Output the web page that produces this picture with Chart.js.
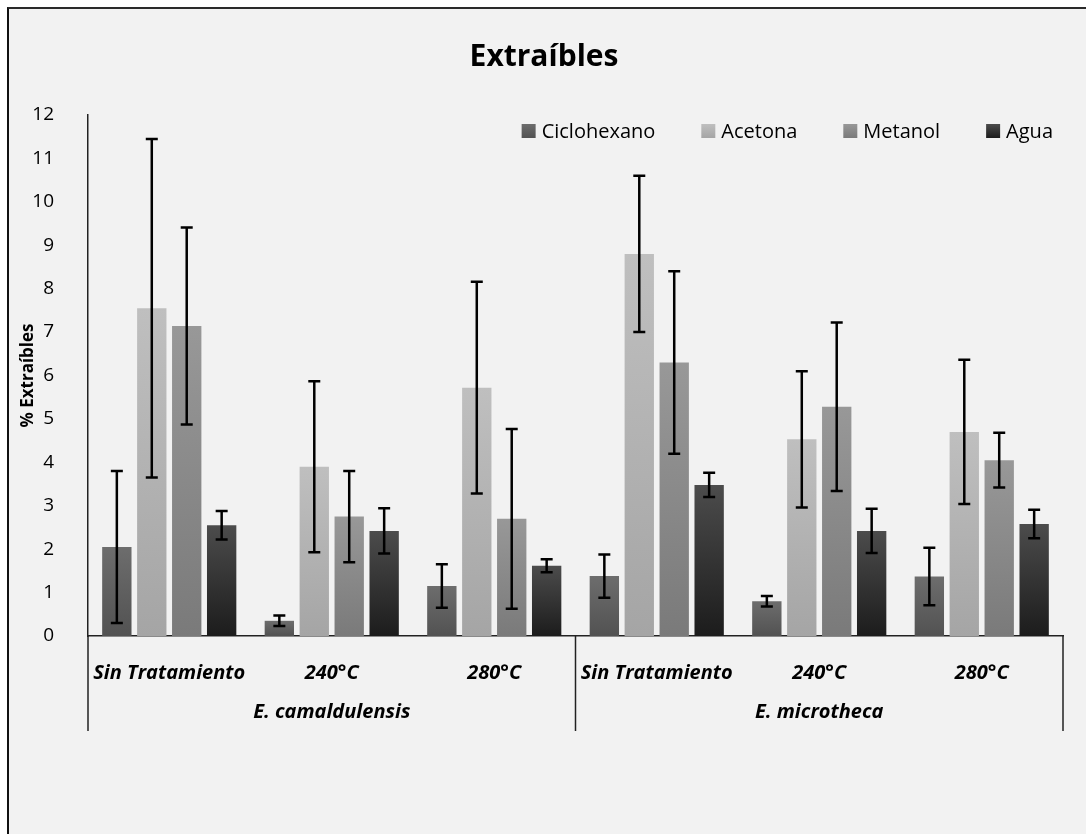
<!DOCTYPE html>
<html>
<head>
<meta charset="utf-8">
<title>Extraíbles</title>
<script src="https://cdn.jsdelivr.net/npm/chart.js@4/dist/chart.umd.min.js"></script>
<style>
    body { margin: 0; background: #ffffff; }
    #wrap { position: absolute; left: 0; top: 0; width: 1086px; height: 834px; }
    #frame { position: absolute; left: 7px; top: 7px; right: 0; bottom: 0; background: #f2f2f2;
             border-left: 2px solid #111; border-top: 2px solid #2a2a2a; }
    canvas { position: absolute; left: 0; top: 0; }
</style>
</head>
<body>
<div id="wrap">
    <div id="frame"></div>
    <canvas id="extraiblesChart" width="1086" height="834"></canvas>
</div>
<script>
// categories and groups
const categories = ["Sin Tratamiento", "240°C", "280°C", "Sin Tratamiento", "240°C", "280°C"];
const species = ["E. camaldulensis", "E. microtheca"];
const seriesNames = ["Ciclohexano", "Acetona", "Metanol", "Agua"];

// mean values (%)
const ciclohexano = [2.05, 0.35, 1.15, 1.38, 0.80, 1.37];
const acetona = [7.55, 3.90, 5.72, 8.80, 4.53, 4.70];
const metanol = [7.14, 2.75, 2.70, 6.30, 5.28, 4.05];
const agua = [2.55, 2.42, 1.62, 3.48, 2.42, 2.58];

// error bar half-widths
const ciclohexanoErr = [1.75, 0.12, 0.50, 0.50, 0.12, 0.66];
const acetonaErr = [3.90, 1.97, 2.44, 1.80, 1.57, 1.66];
const metanolErr = [2.27, 1.05, 2.07, 2.10, 1.94, 0.63];
const aguaErr = [0.33, 0.52, 0.15, 0.28, 0.51, 0.33];

const yTicks = [0, 1, 2, 3, 4, 5, 6, 7, 8, 9, 10, 11, 12];

const FONT = "'Open Sans', 'DejaVu Sans', sans-serif";

// vertical gradient per bar, top colour -> bottom colour
function barGradient(topColor, bottomColor) {
    return function (context) {
        let chart = context.chart;
        if (!chart.chartArea || context.type !== "data") {
            return topColor;
        }
        let yScale = chart.scales.y;
        let yTop = yScale.getPixelForValue(context.raw);
        let yBase = yScale.getPixelForValue(0);
        if (!isFinite(yTop) || yBase - yTop < 1) {
            return topColor;
        }
        let g = chart.ctx.createLinearGradient(0, yTop, 0, yBase);
        g.addColorStop(0, topColor);
        g.addColorStop(1, bottomColor);
        return g;
    };
}

const colours = [
    ["#6d6d6d", "#525252"],
    ["#bfbfbf", "#a5a5a5"],
    ["#989898", "#7a7a7a"],
    ["#4c4c4c", "#1c1c1c"]
];

const values = [ciclohexano, acetona, metanol, agua];
const errors = [ciclohexanoErr, acetonaErr, metanolErr, aguaErr];

// error bars drawn on top of the bars
const errorBarPlugin = {
    id: "errorBars",
    afterDatasetsDraw(chart) {
        let ctx = chart.ctx;
        let yScale = chart.scales.y;
        ctx.save();
        ctx.strokeStyle = "#000000";
        ctx.lineWidth = 2.5;
        chart.data.datasets.forEach((ds, i) => {
            let meta = chart.getDatasetMeta(i);
            meta.data.forEach((bar, j) => {
                let v = ds.data[j];
                let e = ds.errors[j];
                let yHi = yScale.getPixelForValue(v + e);
                let yLo = yScale.getPixelForValue(v - e);
                let cap = 6;
                ctx.beginPath();
                ctx.moveTo(bar.x, yHi);
                ctx.lineTo(bar.x, yLo);
                ctx.moveTo(bar.x - cap, yHi);
                ctx.lineTo(bar.x + cap, yHi);
                ctx.moveTo(bar.x - cap, yLo);
                ctx.lineTo(bar.x + cap, yLo);
                ctx.stroke();
            });
        });
        ctx.restore();
    }
};

// title, legend and the second level of the category axis
const decorPlugin = {
    id: "decor",
    afterDraw(chart) {
        let ctx = chart.ctx;
        let area = chart.chartArea;
        let xScale = chart.scales.x;
        ctx.save();

        // title
        ctx.fillStyle = "#000000";
        ctx.font = "bold 30px " + FONT;
        ctx.textAlign = "center";
        ctx.textBaseline = "middle";
        ctx.fillText("Extraíbles", 544, 57);

        // legend (top right inside plot area)
        ctx.font = "20px " + FONT;
        ctx.textAlign = "left";
        let box = 14, gapText = 6, gapItem = 46;
        let widths = seriesNames.map(n => ctx.measureText(n).width);
        let total = widths.reduce((a, w) => a + box + gapText + w, 0) + gapItem * (seriesNames.length - 1);
        let lx = area.right - 10 - total;
        let ly = area.top + 16;
        seriesNames.forEach((name, i) => {
            let g = ctx.createLinearGradient(0, ly - box / 2, 0, ly + box / 2);
            g.addColorStop(0, colours[i][0]);
            g.addColorStop(1, colours[i][1]);
            ctx.fillStyle = g;
            ctx.fillRect(lx, ly - box / 2, box, box);
            ctx.fillStyle = "#000000";
            ctx.fillText(name, lx + box + gapText, ly + 1);
            lx += box + gapText + widths[i] + gapItem;
        });

        // species group separators and labels
        let left = area.left;
        let mid = (xScale.getPixelForValue(2) + xScale.getPixelForValue(3)) / 2;
        let right = area.right;
        ctx.strokeStyle = "#222222";
        ctx.lineWidth = 1.5;
        [left, mid, right].forEach(x => {
            ctx.beginPath();
            ctx.moveTo(x, area.bottom);
            ctx.lineTo(x, area.bottom + 95);
            ctx.stroke();
        });
        ctx.font = "italic bold 20px " + FONT;
        ctx.textAlign = "center";
        ctx.fillStyle = "#000000";
        ctx.fillText(species[0], (left + mid) / 2, area.bottom + 76);
        ctx.fillText(species[1], (mid + right) / 2, area.bottom + 76);

        ctx.restore();
    }
};

let chart = new Chart(document.getElementById("extraiblesChart").getContext("2d"), {
    type: "bar",
    data: {
        labels: categories,
        datasets: seriesNames.map((name, i) => ({
            label: name,
            data: values[i],
            errors: errors[i],
            backgroundColor: barGradient(colours[i][0], colours[i][1]),
            borderWidth: 0,
            categoryPercentage: 0.86,
            barPercentage: 0.84
        }))
    },
    options: {
        responsive: false,
        animation: false,
        layout: {
            padding: { left: 18, top: 115, right: 23, bottom: 0 }
        },
        plugins: {
            legend: { display: false },
            title: { display: false },
            tooltip: { enabled: false }
        },
        scales: {
            x: {
                grid: { display: false },
                border: { display: true, color: "#222222", width: 1.5 },
                ticks: {
                    padding: 17,
                    color: "#000000",
                    font: { family: FONT, size: 20, style: "italic", weight: "bold" },
                    maxRotation: 0,
                    autoSkip: false
                },
                afterFit: function (scale) { scale.height = 198; }
            },
            y: {
                min: 0,
                max: 12,
                grid: { display: false },
                border: { display: true, color: "#222222", width: 1.5 },
                afterBuildTicks: function (scale) {
                    scale.ticks = yTicks.map(v => ({ value: v }));
                },
                ticks: {
                    padding: 26,
                    color: "#000000",
                    font: { family: FONT, size: 19 }
                },
                title: {
                    display: true,
                    text: "% Extraíbles",
                    color: "#000000",
                    font: { family: FONT, size: 17, weight: "bold" },
                    padding: { top: 0, bottom: 0 }
                },
                afterFit: function (scale) { scale.width = 70; }
            }
        }
    },
    plugins: [errorBarPlugin, decorPlugin]
});
</script>
</body>
</html>
